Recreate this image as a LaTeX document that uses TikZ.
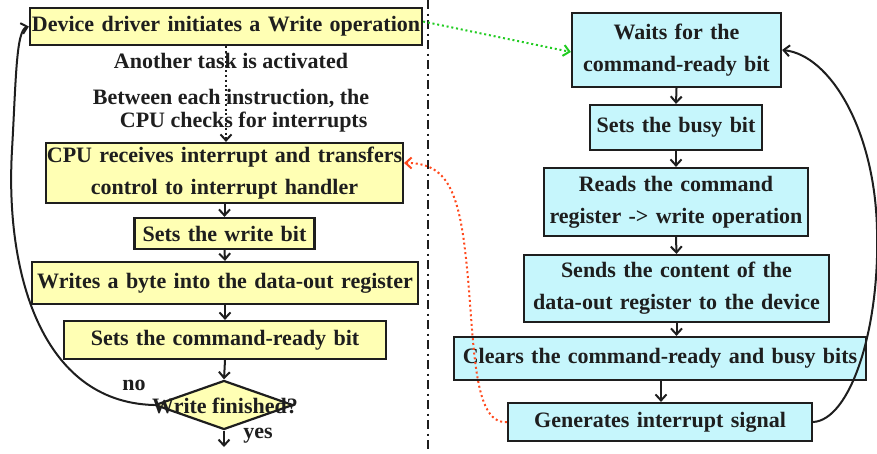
\documentclass[tikz,border=0pt]{standalone}
\usepackage{fontspec}
\setmainfont{Liberation Serif}
\usetikzlibrary{shapes.geometric,arrows.meta}

\definecolor{boxyellow}{HTML}{FFFFB4}
\definecolor{boxcyan}{HTML}{C6F6FC}
\definecolor{inkgray}{HTML}{1E1E1E}
\definecolor{signalgreen}{HTML}{22CC22}
\definecolor{signalred}{HTML}{FF4A1E}

\begin{document}
\begin{tikzpicture}[x=1pt,y=-1pt,
  every node/.style={font=\fontsize{22}{32}\selectfont\bfseries, text=inkgray},
  stepbox/.style={draw=inkgray, line width=2.2pt, inner xsep=0pt, inner ysep=0pt, align=center},
  hostbox/.style={stepbox, fill=boxyellow},
  devbox/.style={stepbox, fill=boxcyan},
  tip/.style={-{Straight Barb[length=6pt,width=11pt]}},
  flow/.style={line width=2pt, draw=inkgray, tip},
  dotflow/.style={line width=2pt, tip, dash pattern=on 2pt off 2.8pt},
  sep/.style={line width=2pt, draw=inkgray, dash pattern=on 9pt off 4.5pt on 2pt off 4.5pt}
]
\useasboundingbox (0,0) rectangle (877,453);

% host side (CPU / device driver)
\node[hostbox, text width=392pt, minimum height=37pt] (d1) at (226,26.5) {Device driver initiates a Write operation};
\node (task) at (231,61) {Another task is activated};
\node[align=left, font=\fontsize{22}{23}\selectfont\bfseries] (poll) at (231,111)
  {Between each instruction, the\\\hspace*{27pt}CPU checks for interrupts};
\node[hostbox, text width=357pt, minimum height=60pt] (cpu) at (224.5,173)
  {CPU receives interrupt and transfers\\control to interrupt handler};
\node[hostbox, text width=180pt, minimum height=31pt] (swb) at (224.5,233.5) {Sets the write bit};
\node[hostbox, text width=386pt, minimum height=42pt] (wbyte) at (225,283) {Writes a byte into the data-out register};
\node[hostbox, text width=322pt, minimum height=38pt] (scr) at (225,340) {Sets the command-ready bit};
\node[diamond, draw=inkgray, line width=2.2pt, fill=boxyellow, minimum width=138pt, minimum height=49pt, inner sep=0pt] (dia) at (224,405) {};
\node (diatext) at (225,406) {Write finished?};
\node (no) at (134,385) {no};
\node (yes) at (258,436) {yes};
\coordinate (done) at (224,447);

% separator between host and device
\draw[sep] (428,0) -- (428,453);

% device side (controller)
\node[devbox, text width=209pt, minimum height=74pt] (wait) at (676.5,50) {Waits for the\\command-ready bit};
\node[devbox, text width=172pt, minimum height=45pt] (busy) at (676,127.5) {Sets the busy bit};
\node[devbox, text width=264pt, minimum height=68pt] (reads) at (676,202) {Reads the command\\register -> write operation};
\node[devbox, text width=305pt, minimum height=67pt] (sends) at (676.5,288.5) {Sends the content of the\\data-out register to the device};
\node[devbox, text width=412pt, minimum height=43pt] (clears) at (660,358.5) {Clears the command-ready and busy bits};
\node[devbox, text width=304pt, minimum height=38pt] (gen) at (660,422) {Generates interrupt signal};

% host flow
\draw[dotflow, draw=inkgray] (d1.south -| 226,0) -- (cpu.north -| 226,0);
\draw[flow] (cpu.south) -- (swb.north);
\draw[flow] (swb.south) -- (wbyte.north);
\draw[flow] (wbyte.south) -- (scr.north);
\draw[flow] (scr.south) -- (dia.north);
\draw[flow] (dia.south) -- (done);
\draw[flow] (dia.west) .. controls (40,402) and (5,270) .. (12,150)
  .. controls (16,80) and (16,30) .. (d1.west);

% device flow
\draw[flow] (wait.south) -- (busy.north);
\draw[flow] (busy.south) -- (reads.north);
\draw[flow] (reads.south) -- (sends.north);
\draw[flow] (sends.south) -- (sends.south |- clears.north);
\draw[flow] (clears.south -| 661,0) -- (gen.north -| 661,0);
\draw[flow] (gen.east) .. controls (850,420) and (880,330) .. (877,230)
  .. controls (875,130) and (830,55) .. (wait.east);

% signals between the two sides
\draw[dotflow, draw=signalgreen] ([yshift=5pt]d1.east) -- ([yshift=-2pt]wait.west);
\draw[dotflow, draw=signalred] (gen.west) .. controls (470,425) and (475,330) .. (465,250)
  .. controls (457,180) and (440,163) .. ([yshift=10pt]cpu.east);
\end{tikzpicture}
\end{document}
